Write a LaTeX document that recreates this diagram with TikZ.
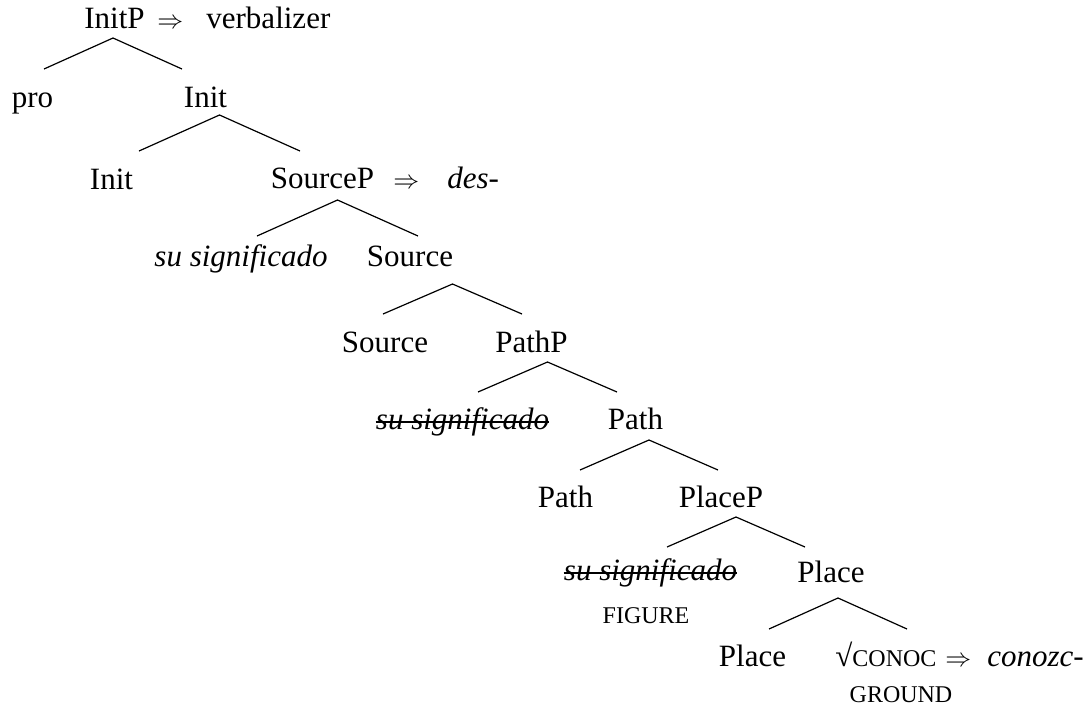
\documentclass[tikz,border=0pt]{standalone}
\usepackage{fontspec}
\setmainfont{Liberation Serif}
\usepackage{tikz}
\usetikzlibrary{positioning}
\newcommand{\smcap}[1]{{\fontsize{12}{14}\selectfont #1}}
\newcommand{\becomes}{\scalebox{0.9}{$\Rightarrow$}}

\begin{document}
\begin{tikzpicture}[x=0.5pt, y=-0.5pt, font=\fontsize{15.5}{18}\selectfont,
        word/.style={inner sep=0pt, anchor=base},
        tail/.style={inner sep=0pt, anchor=base west},
        branch/.style={line width=0.6pt},
        strike/.style={line width=0.7pt}]
        \useasboundingbox (0,0) rectangle (1088,708);

        % Branches, one pair per phrase
        \foreach \n/\x/\y/\w/\h in {a/113/38/69/31, b/219.5/115/80.5/36, c/337.5/200/80.5/36,
                d/452.5/284/69.5/30, e/547.5/362/69.5/30, f/649/440/69/30, g/736/517/69/30, h/838/598/69/31} {
        \coordinate (top\n) at (\x,\y);
        \coordinate (left\n) at (\x-\w,\y+\h);
        \coordinate (right\n) at (\x+\w,\y+\h);
        \draw[branch] (left\n) -- (top\n) -- (right\n);
        }

        % Labels
        \foreach \name/\x/\y/\text in {initP/114.5/28/InitP, pro/32.5/107/pro, init/205.5/107/Init,
                initH/111.5/189/Init, sourceP/322.5/188/SourceP,
                spec1/241/266/{\textit{su significado}}, source/410/266/Source,
                sourceH/385/352/Source, pathP/531.5/352/PathP,
                spec2/462.5/429/{\textit{su significado}}, path/635.5/429/Path,
                pathH/565.5/507/Path, placeP/721/507/PlaceP,
                spec3/650.5/580/{\textit{su significado}}, place/831/582/Place,
                placeH/752.5/666/Place} {
        \node[word] (\name) at (\x,\y) {\text};
        }

        % Lower copies are struck out
        \foreach \name in {spec2, spec3} {
        \draw[strike] ([yshift=3.6pt]\name.base west) -- ([yshift=3.6pt]\name.base east);
        }

        % Spell-outs
        \node[tail] (arrInit) at (157,28) {\becomes};
        \node[tail] (verb) at (206,28) {verbalizer};
        \node[tail] (arrSource) at (393,188) {\becomes};
        \node[tail] (des) at (447,188) {\textit{des}-};
        \node[tail] (root) at (835,666) {√\smcap{CONOC}};
        \node[tail] (arrRoot) at (945,666) {\becomes};
        \node[tail] (conozc) at (987,666) {\textit{conozc}-};

        % Theta roles
        \node[word] (figure) at (646,623) {\smcap{FIGURE}};
        \node[word] (ground) at (901,702) {\smcap{GROUND}};
\end{tikzpicture}
\end{document}
